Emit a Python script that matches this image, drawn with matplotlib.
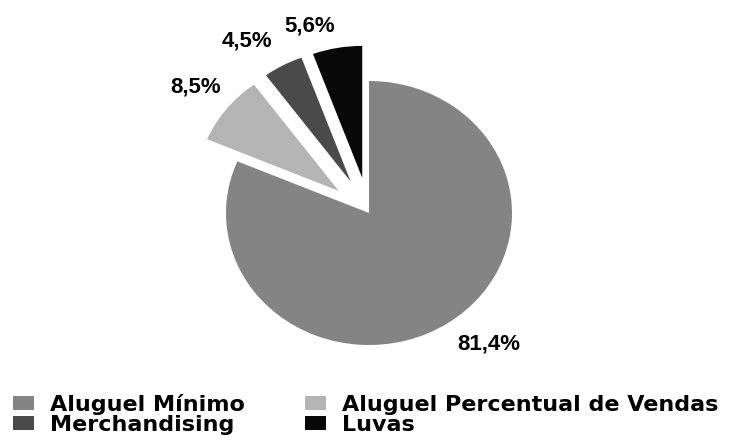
import numpy as np
import matplotlib
matplotlib.use("Agg")
import matplotlib.pyplot as plt

# dados
categorias = ["Aluguel Mínimo", "Aluguel Percentual de Vendas", "Merchandising", "Luvas"]
valores = [81.4, 8.5, 4.5, 5.6]
rotulos = ["81,4%", "8,5%", "4,5%", "5,6%"]

cores = ["#848484", "#b4b4b4", "#4a4a4a", "#080808"]
explode = [0, 0.27, 0.27, 0.27]
# posição dos rótulos (unidades do eixo, raio = 1)
pos_rotulos = [(0.84, -0.99), (-1.21, 0.955), (-0.853, 1.303), (-0.413, 1.417)]

fig = plt.figure(figsize=(7.31, 4.43), dpi=100)
ax = fig.add_axes([0, 0, 1, 1])

wedges, _ = ax.pie(valores, colors=cores, explode=explode, startangle=90,
                   counterclock=False, radius=1,
                   wedgeprops=dict(linewidth=0))

# pizza levemente achatada, como no original
ax.set_aspect("auto")
ax.set_xlim(-369 / 143, (731 - 369) / 143)
ax.set_ylim((213 - 443) / 132, 213 / 132)
ax.axis("off")

for txt, (x, y) in zip(rotulos, pos_rotulos):
    ax.text(x, y, txt, ha="center", va="center", fontsize=16,
            fontweight="bold", family="Liberation Sans")

ordem = [0, 2, 1, 3]
leg = fig.legend([wedges[i] for i in ordem], [categorias[i] for i in ordem],
                 ncol=2, loc="upper left", bbox_to_anchor=(0.018, 0.11),
                 frameon=False, handlelength=0.95, handleheight=0.6,
                 handletextpad=0.72, columnspacing=2.7, labelspacing=0.0,
                 borderaxespad=0, borderpad=0,
                 prop=dict(family="DejaVu Sans", weight="bold", size=16))

fig.savefig("out.png", dpi=100)
